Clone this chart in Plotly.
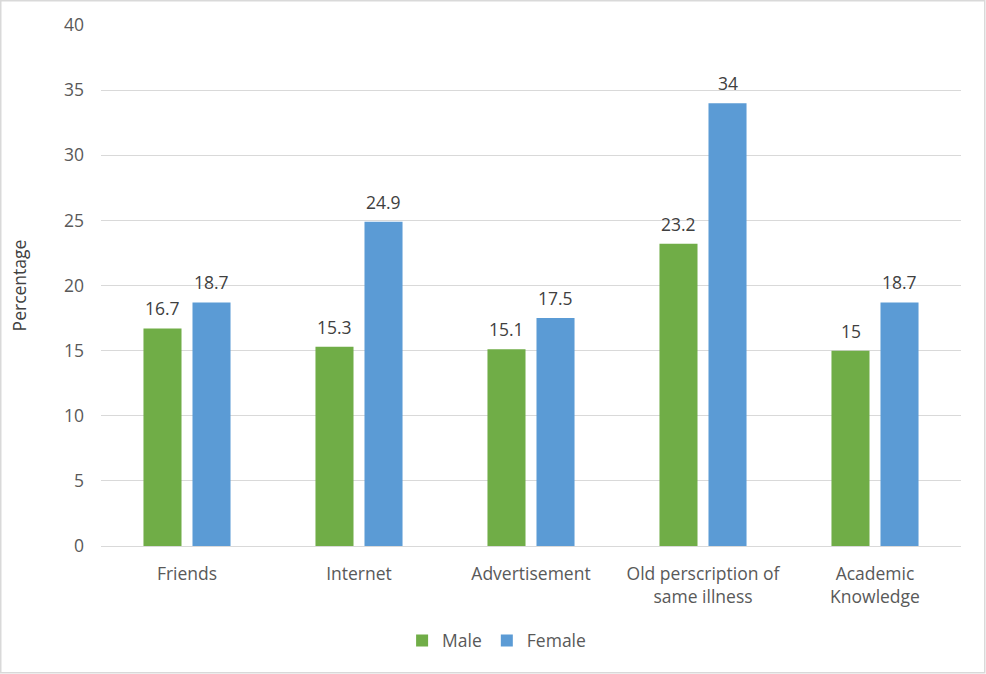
import plotly.graph_objects as go

categories = ["Friends", "Internet", "Advertisement",
              "Old perscription of<br>same illness", "Academic<br>Knowledge"]
male = [16.7, 15.3, 15.1, 23.2, 15]
female = [18.7, 24.9, 17.5, 34, 18.7]
y_ticks = [0, 5, 10, 15, 20, 25, 30, 35, 40]

W, H = 986, 674
ml, mr, mt, mb = 101, 25, 25, 128
pw, ph = W - ml - mr, H - mt - mb

font_name = "Open Sans"
txt_col = "#595959"
fs = 17.5

fig = go.Figure()
fig.add_trace(go.Bar(
    x=categories, y=male, name="Male",
    marker=dict(color="#70AD47", line=dict(width=0)),
))
fig.add_trace(go.Bar(
    x=categories, y=female, name="Female",
    marker=dict(color="#5B9BD5", line=dict(width=0)),
))

# value labels, a bit above each bar (male left, female right in each group)
for vals, dx in [(male, -24.5), (female, 24.5)]:
    for cat, v in zip(categories, vals):
        fig.add_annotation(x=cat, y=v, text=str(v), showarrow=False,
                           xshift=dx, yshift=20, yanchor="middle",
                           font=dict(size=fs, color="#404040", family=font_name))

# light border round the whole chart
fig.add_shape(type="rect", xref="paper", yref="paper",
              x0=(0.75 - ml) / pw, x1=(W - 1.25 - ml) / pw,
              y0=-(H - 1.25 - mt - ph) / ph, y1=(ph + mt - 0.75) / ph,
              line=dict(color="#D9D9D9", width=1.5), layer="below")

fig.update_layout(
    width=W, height=H,
    margin=dict(l=ml, r=mr, t=mt, b=mb),
    paper_bgcolor="white", plot_bgcolor="white",
    barmode="group", bargap=0.43, bargroupgap=0.224,
    font=dict(family=font_name, size=fs, color=txt_col),
    showlegend=True,
    legend=dict(orientation="h", x=0.46, xanchor="center", y=-0.147, yanchor="top",
                font=dict(size=fs, color=txt_col), itemwidth=30),
)
fig.update_xaxes(showline=True, linecolor="#D9D9D9", linewidth=1,
                 tickfont=dict(size=fs, color=txt_col), ticks="",
                 ticklabelstandoff=12)
fig.update_yaxes(range=[0, 40], tickvals=y_ticks, showgrid=True,
                 gridcolor="#D9D9D9", gridwidth=1, zeroline=False,
                 tickfont=dict(size=fs, color=txt_col), ticklabelstandoff=16,
                 title=dict(text="Percentage", font=dict(size=fs, color="#404040"),
                            standoff=32))

fig.write_html("out.html", config={"displayModeBar": False},
               post_script="document.body.style.margin='0';document.body.style.overflow='hidden';")
